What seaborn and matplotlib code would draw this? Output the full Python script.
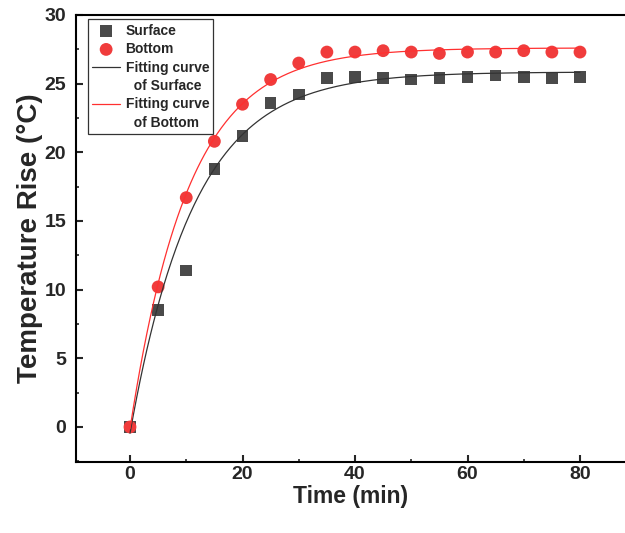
import numpy as np
import pandas as pd
import matplotlib
matplotlib.use("Agg")
import matplotlib.pyplot as plt
import seaborn as sns
from matplotlib.lines import Line2D
from matplotlib.ticker import MultipleLocator

# measured points
time_min = [0, 5, 10, 15, 20, 25, 30, 35, 40, 45, 50, 55, 60, 65, 70, 75, 80]
surface = [0.0, 8.5, 11.4, 18.8, 21.2, 23.6, 24.2, 25.4, 25.5, 25.4, 25.3,
           25.4, 25.5, 25.6, 25.5, 25.4, 25.5]
bottom = [0.0, 10.2, 16.7, 20.8, 23.5, 25.3, 26.5, 27.3, 27.3, 27.4, 27.3,
          27.2, 27.3, 27.3, 27.4, 27.3, 27.3]

# exponential rise fits  y = A * (1 - exp(-(t - t0) / tau))
fit_surface = dict(A=25.85, t0=0.2, tau=11.4)
fit_bottom = dict(A=27.6, t0=0.05, tau=10.4)


def exp_rise(t, A, t0, tau):
    return A * (1 - np.exp(-(t - t0) / tau))


t_fit = np.linspace(0, 80, 400)
df_pts = pd.DataFrame({"time": time_min, "surface": surface, "bottom": bottom})
df_fit = pd.DataFrame({
    "time": t_fit,
    "surface": exp_rise(t_fit, **fit_surface),
    "bottom": exp_rise(t_fit, **fit_bottom),
})

sns.set_theme(style="ticks")
plt.rcParams["font.family"] = ["Liberation Sans", "DejaVu Sans"]
plt.rcParams["font.weight"] = "bold"

fig = plt.figure(figsize=(6.25, 5.33), dpi=100)
ax = fig.add_axes([0.1216, 0.1332, 0.8784, 0.8387])

sns.scatterplot(data=df_pts, x="time", y="surface", ax=ax, marker="s", s=70,
                color="#4a4a4a", edgecolor="none", label="Surface", zorder=2)
sns.scatterplot(data=df_pts, x="time", y="bottom", ax=ax, marker="o", s=85,
                color="#f03c3c", edgecolor="none", label="Bottom", zorder=2)
sns.lineplot(data=df_fit, x="time", y="surface", ax=ax, color="#333333",
             linewidth=0.9, label="Fitting curve", zorder=3)
sns.lineplot(data=df_fit, x="time", y="bottom", ax=ax, color="#ff3030",
             linewidth=0.9, label="Fitting curve", zorder=3)

ax.set_xlim(-9.6, 88.0)
ax.set_ylim(-2.55, 30)
ax.xaxis.set_major_locator(MultipleLocator(20))
ax.xaxis.set_minor_locator(MultipleLocator(10))
ax.yaxis.set_major_locator(MultipleLocator(5))
ax.yaxis.set_minor_locator(MultipleLocator(2.5))
ax.tick_params(which="major", direction="in", length=5, width=1.5,
               labelsize=14)
ax.tick_params(axis="x", which="major", pad=3)
ax.tick_params(axis="y", which="major", pad=7)
ax.tick_params(which="minor", direction="in", length=2.5, width=1.2)
for lab in ax.get_xticklabels() + ax.get_yticklabels():
    lab.set_fontweight("bold")

ax.spines["right"].set_visible(False)
for side in ["left", "bottom", "top"]:
    ax.spines[side].set_linewidth(1.5)
    ax.spines[side].set_color("black")

ax.set_xlabel("Time (min)", fontsize=16.5, fontweight="bold", labelpad=1)
ax.set_ylabel("Temperature Rise (\u00b0C)", fontsize=20, fontweight="bold",
              labelpad=1)

# second line of each fit label sits under the first, without a handle
handles, labels = ax.get_legend_handles_labels()
blank = Line2D([], [], linestyle="none")
handles = handles[:3] + [blank] + handles[3:] + [blank]
labels = labels[:3] + ["  of Surface"] + labels[3:] + ["  of Bottom"]

leg = ax.legend(handles, labels, loc="upper left",
                bbox_to_anchor=(0.022, 0.99), fontsize=10,
                frameon=True, fancybox=False, edgecolor="black",
                handlelength=2.0, handletextpad=0.4, borderpad=0.3,
                labelspacing=0.32, borderaxespad=0.0)
leg.get_frame().set_linewidth(0.9)
for txt in leg.get_texts():
    txt.set_fontweight("bold")

fig.savefig("out.png", dpi=100)
